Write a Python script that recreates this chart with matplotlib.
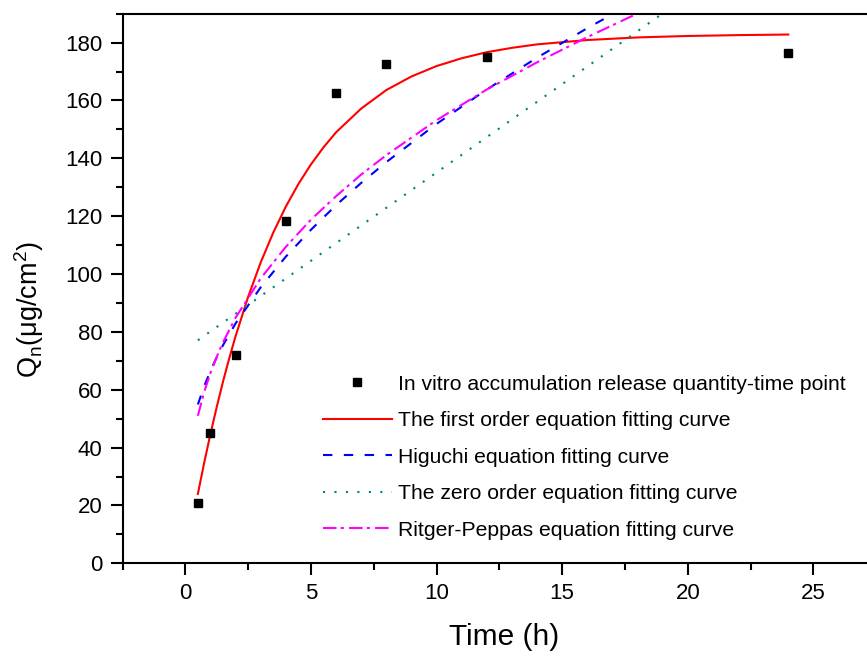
import matplotlib
matplotlib.use("Agg")
import matplotlib.pyplot as plt
from matplotlib.ticker import MultipleLocator

plt.rcParams['font.family'] = ['Liberation Sans', 'DejaVu Sans']

# measured release points
time_pts = [0.5, 1, 2, 4, 6, 8, 12, 24]
q_pts = [21.0, 45.0, 72.0, 118.5, 162.5, 172.5, 175.0, 176.5]

# fitted curves, values
t_first = [0.5, 0.75, 1, 1.25, 1.5, 1.75, 2, 2.5, 3, 3.5, 4, 4.5, 5, 5.5, 6, 7, 8, 9,
           10, 11, 12, 13, 14, 16, 18, 20, 22, 24]
q_first = [24.0, 34.7, 44.7, 54.0, 62.8, 70.9, 78.5, 92.1, 104.0, 114.3, 123.3, 131.1,
           137.9, 143.8, 149.0, 157.2, 163.6, 168.3, 171.9, 174.6, 176.7, 178.2, 179.4,
           180.9, 181.8, 182.3, 182.6, 182.8]

t_higuchi = [0.5, 0.75, 1, 1.25, 1.5, 2, 3, 4, 5, 6, 7, 8, 10, 12, 14, 16, 18]
q_higuchi = [54.9, 61.2, 66.5, 71.2, 75.4, 82.9, 95.4, 106.0, 115.3, 123.8, 131.5, 138.7,
             151.9, 163.8, 174.8, 185.0, 194.6]

t_zero = [0.5, 24]
q_zero = [77.1, 220.6]

t_peppas = [0.5, 0.75, 1, 1.25, 1.5, 2, 3, 4, 5, 6, 7, 8, 10, 12, 14, 16, 18, 20]
q_peppas = [51.0, 59.2, 65.8, 71.4, 76.4, 84.9, 98.5, 109.4, 118.8, 126.9, 134.4, 141.1,
            153.2, 163.8, 173.2, 181.9, 190.1, 197.6]

labels = ["In vitro accumulation release quantity-time point",
          "The first order equation fitting curve",
          "Higuchi equation fitting curve",
          "The zero order equation fitting curve",
          "Ritger-Peppas equation fitting curve"]

fig = plt.figure(figsize=(8.67, 6.56), dpi=100)
ax = fig.add_axes([0.1413, 0.1413, 0.8693, 0.8378])

ax.plot(time_pts, q_pts, 's', color='black', ms=5.5, label=labels[0], zorder=5)
ax.plot(t_first, q_first, '-', color='#ff0000', lw=1.5, label=labels[1])
ax.plot(t_higuchi, q_higuchi, color='#0000ff', lw=1.5, dashes=(4.5, 5.5), label=labels[2])
ax.plot(t_zero, q_zero, color='#008080', lw=1.5, dashes=(1, 4.5), label=labels[3])
ax.plot(t_peppas, q_peppas, color='#ff00ff', lw=1.5, dashes=(6.5, 2, 1.5, 2.5), label=labels[4])

ax.set_xlim(-2.5, 27.5)
ax.set_ylim(0, 190)
ax.xaxis.set_major_locator(MultipleLocator(5))
ax.xaxis.set_minor_locator(MultipleLocator(2.5))
ax.yaxis.set_major_locator(MultipleLocator(20))
ax.yaxis.set_minor_locator(MultipleLocator(10))

for s in ax.spines.values():
    s.set_linewidth(1.5)
ax.tick_params(which='major', direction='out', length=8.5, width=1.5, labelsize=16, pad=6)
ax.tick_params(which='minor', direction='out', length=4.8, width=1.5)
ax.tick_params(top=False, right=False, which='both')

ax.set_xlabel("Time (h)", fontsize=21.5)
ax.set_ylabel(r"Q$_\mathregular{n}$($\mathregular{\mu}$g/cm$^\mathregular{2}$)", fontsize=19.5)
ax.xaxis.set_label_coords(0.506, -0.108)
ax.yaxis.set_label_coords(-0.1015, 0.461)

ax.legend(loc='upper left', bbox_to_anchor=(0.3725, 0.429), bbox_transform=fig.transFigure,
          frameon=False, fontsize=15.2, handlelength=3.25, handletextpad=0.3,
          labelspacing=0.83, borderpad=0, borderaxespad=0)

fig.savefig("out.png", dpi=100)
